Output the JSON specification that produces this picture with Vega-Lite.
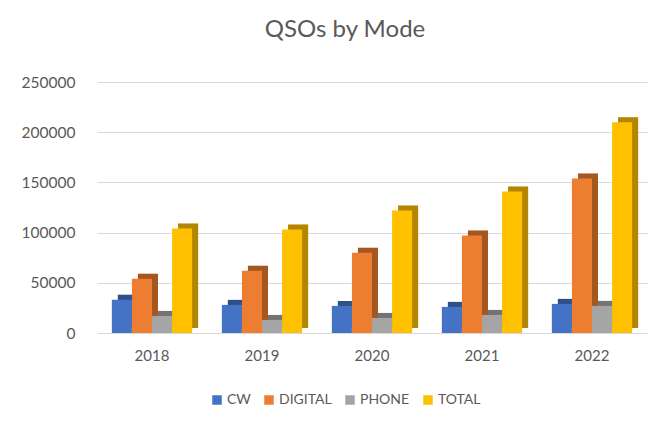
{
  "$schema": "https://vega.github.io/schema/vega-lite/v6.json",
  "autosize": "none",
  "width": 550,
  "height": 251,
  "padding": {"left": 97, "top": 82, "right": 11, "bottom": 89},
  "background": "white",
  "config": {
    "font": "Lato",
    "view": {"stroke": null}
  },
  "title": {
    "text": "QSOs by Mode",
    "fontSize": 24,
    "font": "Lato",
    "fontWeight": "normal",
    "color": "#595959",
    "anchor": "middle",
    "dx": -27,
    "offset": 33
  },
  "data": {
    "values": [
      {"year": "2018", "mode": "CW", "qsos": 33000},
      {"year": "2018", "mode": "DIGITAL", "qsos": 54000},
      {"year": "2018", "mode": "PHONE", "qsos": 17000},
      {"year": "2018", "mode": "TOTAL", "qsos": 104000},
      {"year": "2019", "mode": "CW", "qsos": 28000},
      {"year": "2019", "mode": "DIGITAL", "qsos": 62000},
      {"year": "2019", "mode": "PHONE", "qsos": 13000},
      {"year": "2019", "mode": "TOTAL", "qsos": 103000},
      {"year": "2020", "mode": "CW", "qsos": 27000},
      {"year": "2020", "mode": "DIGITAL", "qsos": 80000},
      {"year": "2020", "mode": "PHONE", "qsos": 15000},
      {"year": "2020", "mode": "TOTAL", "qsos": 122000},
      {"year": "2021", "mode": "CW", "qsos": 26000},
      {"year": "2021", "mode": "DIGITAL", "qsos": 97000},
      {"year": "2021", "mode": "PHONE", "qsos": 18000},
      {"year": "2021", "mode": "TOTAL", "qsos": 141000},
      {"year": "2022", "mode": "CW", "qsos": 29000},
      {"year": "2022", "mode": "DIGITAL", "qsos": 154000},
      {"year": "2022", "mode": "PHONE", "qsos": 27000},
      {"year": "2022", "mode": "TOTAL", "qsos": 210000}
    ]
  },
  "encoding": {
    "x": {
      "field": "year",
      "type": "nominal",
      "scale": {"paddingInner": 0.27, "paddingOuter": 0.135},
      "axis": {
        "title": null,
        "labelAngle": 0,
        "labelFontSize": 15,
        "labelColor": "#595959",
        "labelPadding": 15,
        "ticks": false,
        "domain": false
      }
    },
    "y": {
      "field": "qsos",
      "type": "quantitative",
      "scale": {"domain": [0, 250000], "nice": false},
      "axis": {
        "title": null,
        "values": [0, 50000, 100000, 150000, 200000, 250000],
        "format": "d",
        "labelFontSize": 15.5,
        "labelColor": "#595959",
        "labelPadding": 22,
        "ticks": false,
        "domain": false,
        "gridColor": "#D9D9D9",
        "gridWidth": 1.2
      }
    }
  },
  "resolve": {"scale": {"xOffset": "independent"}},
  "layer": [
    {
      "mark": {"type": "bar", "yOffset": -5},
      "encoding": {
        "xOffset": {
          "field": "mode",
          "type": "nominal",
          "scale": {"paddingInner": 0, "paddingOuter": 0, "range": [6, 86.3]}
        },
        "color": {
          "field": "mode",
          "type": "nominal",
          "scale": {
            "domain": ["CW", "DIGITAL", "PHONE", "TOTAL"],
            "range": ["#4472C4", "#ED7D31", "#A5A5A5", "#FFC000"]
          },
          "legend": {
            "title": null,
            "orient": "none",
            "legendX": 113,
            "legendY": 311,
            "direction": "horizontal",
            "symbolType": "square",
            "symbolSize": 90,
            "symbolStrokeWidth": 0,
            "labelFontSize": 14,
            "labelColor": "#595959",
            "labelOffset": 3,
            "columnPadding": 11
          }
        }
      }
    },
    {
      "mark": {"type": "bar", "yOffset": -5, "color": "black", "opacity": 0.3},
      "encoding": {
        "xOffset": {
          "field": "mode",
          "type": "nominal",
          "scale": {"paddingInner": 0, "paddingOuter": 0, "range": [6, 86.3]}
        }
      }
    },
    {
      "mark": {"type": "bar"},
      "encoding": {
        "xOffset": {
          "field": "mode",
          "type": "nominal",
          "scale": {"paddingInner": 0, "paddingOuter": 0}
        },
        "color": {"field": "mode", "type": "nominal"}
      }
    }
  ]
}
